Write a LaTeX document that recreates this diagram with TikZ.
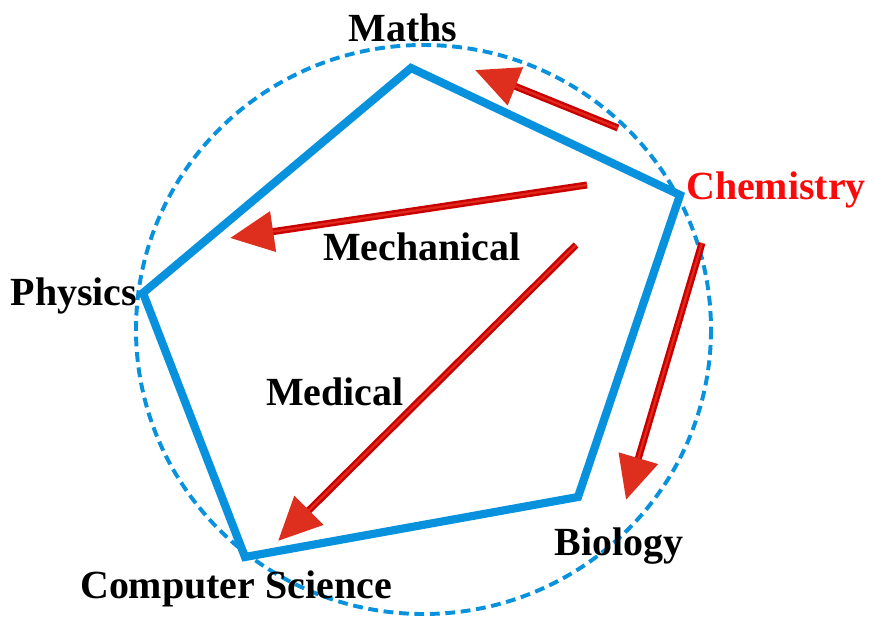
\documentclass[tikz,border=0pt]{standalone}
\usepackage{fontspec}
\setmainfont{Liberation Serif}
\usetikzlibrary{arrows.meta}
\definecolor{ringblue}{RGB}{8,146,222}
\definecolor{chemred}{RGB}{250,10,10}
\definecolor{shaftred}{RGB}{200,0,0}
\definecolor{shaftlight}{RGB}{226,40,26}
\definecolor{headred}{RGB}{221,46,30}
\tikzset{
  subject/.style={font=\fontsize{28.4}{30}\selectfont\bfseries, inner sep=0pt},
  flow/.style={line width=5pt, draw=shaftred,
    -{Triangle[length=31pt, width=28pt, color=headred]}},
  flowcore/.style={line width=1.6pt, draw=shaftlight, shorten >=31pt}
}
\begin{document}
\begin{tikzpicture}[x=0.025cm, y=-0.025cm]
  \useasboundingbox (0,0) rectangle (875,617);
  % Dashed ring
  \draw[ringblue, line width=2.8pt, dash pattern=on 7pt off 4pt]
    (423.5,329.5) ellipse [x radius=287.5, y radius=284.5];
  % Pentagon corners
  \coordinate (maths)   at (411,68);
  \coordinate (chem)    at (680,195);
  \coordinate (bio)     at (578,497);
  \coordinate (cs)      at (245,557);
  \coordinate (phys)    at (143,293);
  \draw[ringblue, line width=5.8pt, line join=miter]
    (maths) -- (chem) -- (bio) -- (cs) -- (phys) -- cycle;
  % Labels
  \node[subject] (lmaths) at (403,28) {Maths};
  \node[subject, text=chemred] (lchem) at (776,190) {Chemistry};
  \node[subject] (lmech) at (422,247) {Mechanical};
  \node[subject] (lphys) at (74,296) {Physics};
  \node[subject] (lmed) at (335,392) {Medical};
  \node[subject] (lbio) at (619,546) {Biology};
  \node[subject] (lcs) at (236,589) {Computer Science};
  % Arrow ends
  \coordinate (a1s) at (618,128);  \coordinate (a1e) at (475,70);
  \coordinate (a2s) at (587,185);  \coordinate (a2e) at (230,238);
  \coordinate (a3s) at (576,245);  \coordinate (a3e) at (278,541);
  \coordinate (a4s) at (702,243);  \coordinate (a4e) at (626,500);
  % Red arrows
  \foreach \s/\e in {a1s/a1e, a2s/a2e, a3s/a3e, a4s/a4e} {
    \draw[flow] (\s) -- (\e);
    \draw[flowcore] (\s) -- (\e);
  }
\end{tikzpicture}
\end{document}
